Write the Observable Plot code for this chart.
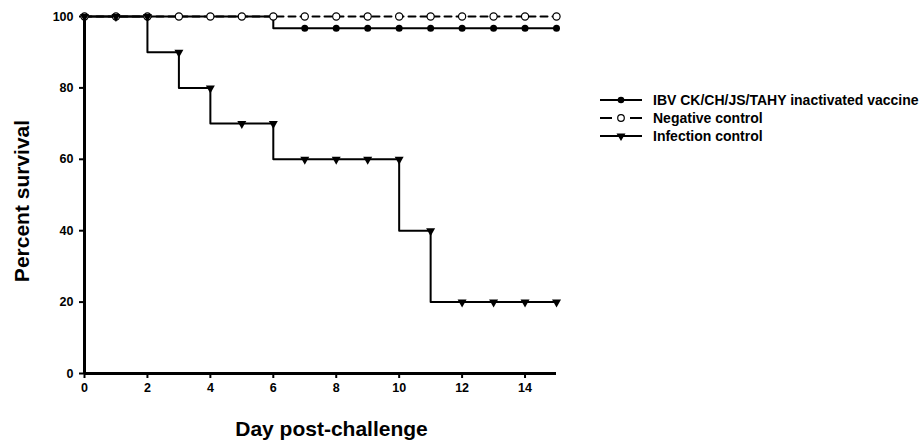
<!DOCTYPE html>
<html><head><meta charset="utf-8">
<script src="https://cdn.jsdelivr.net/npm/d3@7"></script>
<script src="https://cdn.jsdelivr.net/npm/@observablehq/plot@0.6"></script>
<style>
body{margin:0;background:#fff;font-family:"Liberation Sans",Arial,sans-serif;}
#wrap{position:relative;width:920px;height:445px;}
#legend{position:absolute;left:598px;top:91px;font-weight:bold;font-size:14px;color:#000;white-space:nowrap;}
#legend .row{height:18px;display:flex;align-items:center;}
#legend svg{width:50px;height:12px;margin-right:5px;flex:none;}
</style></head>
<body><div id="wrap"><div id="legend"></div></div>
<script>
const days = [0,1,2,3,4,5,6,7,8,9,10,11,12,13,14,15];
const vaccine = [100,100,100,100,100,100,96.7,96.7,96.7,96.7,96.7,96.7,96.7,96.7,96.7,96.7];
const negative = [100,100,100,100,100,100,100,100,100,100,100,100,100,100,100,100];
const infection = [100,100,90,80,70,70,60,60,60,60,40,20,20,20,20,20];
const seriesNames = ["IBV CK/CH/JS/TAHY inactivated vaccine","Negative control","Infection control"];
const xTicks = [0,2,4,6,8,10,12,14];
const yTicks = [0,20,40,60,80,100];
const xLabel = "Day post-challenge";
const yLabel = "Percent survival";

const rows = (vals) => days.map((d,i)=>({day:d, v:vals[i]}));
// marker sits at the value just before any drop on that day
const marks = (vals) => days.map((d,i)=>({day:d, v: i===0 ? vals[0] : vals[i-1]}));

const triDown = {draw(ctx){ ctx.moveTo(-4.5,-2.5); ctx.lineTo(4.5,-2.5); ctx.lineTo(0,5.5); ctx.closePath(); }};

const font = "Liberation Sans, Arial, sans-serif";
const chart = Plot.plot({
  width: 920, height: 445,
  marginLeft: 84, marginRight: 364, marginTop: 16, marginBottom: 72,
  style: {fontFamily: font, background: "white"},
  x: {domain: [0,15]},
  y: {domain: [0,100]},
  marks: [
    Plot.axisX({ticks: xTicks, tickSize: 5, strokeWidth: 2, tickPadding: 5, fontSize: 12.5, fontWeight: "bold", label: null}),
    Plot.axisY({ticks: yTicks, tickSize: 5, strokeWidth: 2, tickPadding: 6, fontSize: 12.5, fontWeight: "bold", label: null}),
    Plot.line(rows(vaccine), {x:"day", y:"v", curve:"step-after", stroke:"black", strokeWidth:2}),
    Plot.line(rows(negative), {x:"day", y:"v", curve:"step-after", stroke:"black", strokeWidth:2, strokeDasharray:"7,5"}),
    Plot.line(rows(infection), {x:"day", y:"v", curve:"step-after", stroke:"black", strokeWidth:2}),
    Plot.ruleX([0], {stroke:"black", strokeWidth:3}),
    Plot.ruleY([0], {stroke:"black", strokeWidth:3}),
    Plot.dot(marks(vaccine), {x:"day", y:"v", r:3.5, fill:"black", stroke:"none"}),
    Plot.dot(marks(negative), {x:"day", y:"v", r:3.6, fill:"white", stroke:"black", strokeWidth:1.2}),
    Plot.dot(marks(infection), {x:"day", y:"v", symbol: triDown, fill:"black", stroke:"none"}),
    Plot.text([yLabel], {frameAnchor:"left", textAnchor:"middle", lineAnchor:"middle", rotate:-90, dx:-62, dy:6, fontSize:21, fontWeight:"bold", fill:"black"}),
    Plot.text([xLabel], {frameAnchor:"bottom", textAnchor:"middle", dx:11, dy:62, fontSize:21, fontWeight:"bold", fill:"black"})
  ]
});
document.getElementById("wrap").prepend(chart);

const legend = document.getElementById("legend");
const sym = [
  '<line x1="2" y1="6" x2="44" y2="6" stroke="black" stroke-width="2"/><circle cx="23" cy="6" r="3.3" fill="black"/>',
  '<line x1="2" y1="6" x2="14" y2="6" stroke="black" stroke-width="2"/><line x1="32" y1="6" x2="44" y2="6" stroke="black" stroke-width="2"/><circle cx="23" cy="6" r="3.3" fill="white" stroke="black" stroke-width="1.2"/>',
  '<line x1="2" y1="6" x2="44" y2="6" stroke="black" stroke-width="2"/><path d="M18.5,3.5L27.5,3.5L23,11Z" fill="black"/>'
];
seriesNames.forEach((n,i)=>{
  const r = document.createElement("div"); r.className="row";
  r.innerHTML = `<svg viewBox="0 0 50 12">${sym[i]}</svg><span>${n}</span>`;
  legend.appendChild(r);
});
</script></body></html>
